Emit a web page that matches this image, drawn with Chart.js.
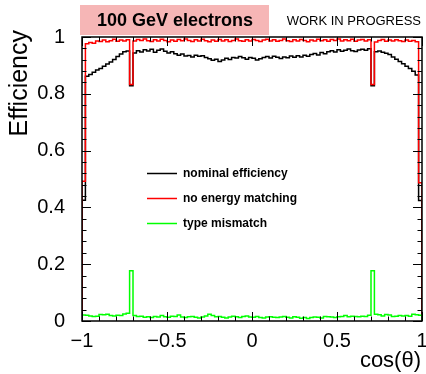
<!DOCTYPE html>
<html>
<head>
<meta charset="utf-8">
<script src="https://cdn.jsdelivr.net/npm/chart.js@4.4.1/dist/chart.umd.min.js"></script>
<style>
  html, body { margin: 0; padding: 0; background: #fff; }
  #wrap { width: 426px; height: 374px; }
</style>
</head>
<body>
<div id="wrap"><canvas id="effChart" width="426" height="374"></canvas></div>
<script>
// cos(theta) binning: 100 bins between -1 and 1
const binLow = -1;
const binWidth = 0.02;

const nominalEff = [
  0.425, 0.862, 0.868, 0.876, 0.884, 0.889, 0.897, 0.905, 0.912, 0.921,
  0.931, 0.940, 0.948, 0.951, 0.828, 0.944, 0.952, 0.947, 0.955, 0.951,
  0.957, 0.946, 0.953, 0.958, 0.950, 0.944, 0.948, 0.941, 0.936, 0.940,
  0.933, 0.935, 0.930, 0.936, 0.932, 0.934, 0.928, 0.923, 0.918, 0.922,
  0.914, 0.919, 0.925, 0.921, 0.928, 0.926, 0.931, 0.927, 0.922, 0.928,
  0.925, 0.919, 0.923, 0.928, 0.931, 0.926, 0.932, 0.929, 0.924, 0.930,
  0.927, 0.933, 0.929, 0.934, 0.930, 0.936, 0.932, 0.938, 0.942, 0.937,
  0.945, 0.941, 0.948, 0.952, 0.947, 0.955, 0.950, 0.953, 0.958, 0.952,
  0.949, 0.954, 0.957, 0.953, 0.959, 0.828, 0.948, 0.951, 0.946, 0.943,
  0.938, 0.930, 0.922, 0.914, 0.906, 0.897, 0.889, 0.879, 0.866, 0.424
];

const noEnergyMatch = [
  0.492, 0.976, 0.981, 0.978, 0.986, 0.984, 0.989, 0.983, 0.987, 0.992,
  0.985, 0.989, 0.986, 0.990, 0.833, 0.986, 0.991, 0.988, 0.993, 0.987,
  0.984, 0.990, 0.986, 0.992, 0.988, 0.983, 0.989, 0.985, 0.991, 0.987,
  0.993, 0.988, 0.984, 0.990, 0.986, 0.992, 0.987, 0.983, 0.989, 0.985,
  0.991, 0.986, 0.990, 0.984, 0.988, 0.993, 0.987, 0.985, 0.990, 0.986,
  0.991, 0.988, 0.984, 0.989, 0.992, 0.986, 0.990, 0.985, 0.988, 0.993,
  0.987, 0.984, 0.990, 0.986, 0.991, 0.988, 0.983, 0.989, 0.986, 0.992,
  0.987, 0.990, 0.985, 0.991, 0.988, 0.993, 0.986, 0.990, 0.987, 0.992,
  0.985, 0.989, 0.991, 0.986, 0.990, 0.833, 0.982, 0.988, 0.991, 0.985,
  0.989, 0.986, 0.990, 0.987, 0.984, 0.989, 0.985, 0.988, 0.983, 0.487
];

const typeMismatch = [
  0.021, 0.020, 0.018, 0.016, 0.017, 0.023, 0.022, 0.024, 0.019, 0.018,
  0.020, 0.019, 0.025, 0.027, 0.177, 0.019, 0.016, 0.017, 0.013, 0.015,
  0.012, 0.016, 0.014, 0.019, 0.015, 0.013, 0.017, 0.016, 0.021, 0.014,
  0.012, 0.015, 0.016, 0.013, 0.011, 0.014, 0.018, 0.024, 0.019, 0.015,
  0.016, 0.013, 0.011, 0.014, 0.017, 0.015, 0.012, 0.016, 0.018, 0.014,
  0.013, 0.016, 0.012, 0.011, 0.014, 0.015, 0.013, 0.012, 0.014, 0.016,
  0.013, 0.011, 0.015, 0.013, 0.010, 0.012, 0.009, 0.012, 0.014, 0.013,
  0.011, 0.016, 0.015, 0.014, 0.012, 0.015, 0.016, 0.019, 0.015, 0.017,
  0.016, 0.015, 0.017, 0.016, 0.020, 0.177, 0.024, 0.022, 0.018, 0.023,
  0.021, 0.016, 0.017, 0.019, 0.018, 0.019, 0.017, 0.024, 0.022, 0.020
];

const seriesNames = ['nominal efficiency', 'no energy matching', 'type mismatch'];
const seriesColors = ['#000000', '#ff0000', '#00ff00'];

const xTicks = [-1, -0.5, 0, 0.5, 1];
const yTicks = [0, 0.2, 0.4, 0.6, 0.8, 1];

const FONT = "'Liberation Sans', Arial, Helvetica, sans-serif";

// histogram outline: start and end on zero, one point per bin low edge
function histPoints(vals) {
  const hi = binLow + vals.length * binWidth;
  const pts = [{x: binLow, y: 0}];
  vals.forEach((v, i) => pts.push({x: binLow + i * binWidth, y: v}));
  pts.push({x: hi, y: vals[vals.length - 1]});
  pts.push({x: hi, y: 0});
  return pts;
}

function fmtTick(v) {
  return v < 0 ? '\u2212' + String(-v) : String(v);
}

// frame with inward ticks on all four sides
const rootFrame = {
  id: 'rootFrame',
  afterDatasetsDraw(chart) {
    const {ctx, chartArea: a, scales: {x, y}} = chart;
    ctx.save();
    ctx.strokeStyle = '#000';
    ctx.lineWidth = 1;
    ctx.beginPath();
    for (let k = 0; k <= 20; k++) {
      const px = Math.round(x.getPixelForValue(-1 + k * 0.1)) + 0.5;
      const len = k % 5 === 0 ? 9 : 4.5;
      ctx.moveTo(px, a.bottom); ctx.lineTo(px, a.bottom - len);
      ctx.moveTo(px, a.top); ctx.lineTo(px, a.top + len);
    }
    for (let k = 0; k <= 25; k++) {
      const py = Math.round(y.getPixelForValue(k * 0.04)) + 0.5;
      const len = k % 5 === 0 ? 9 : 4.5;
      ctx.moveTo(a.left, py); ctx.lineTo(a.left + len, py);
      ctx.moveTo(a.right, py); ctx.lineTo(a.right - len, py);
    }
    ctx.stroke();
    ctx.lineWidth = 1.5;
    ctx.strokeRect(a.left, a.top, a.right - a.left, a.bottom - a.top);
    ctx.restore();
  }
};

// title box, axis titles and in-frame legend
const decorations = {
  id: 'decorations',
  afterDraw(chart) {
    const {ctx} = chart;
    ctx.save();

    ctx.fillStyle = '#f6b6b6';
    ctx.fillRect(80, 5, 189, 30);
    ctx.fillStyle = '#000';
    ctx.textBaseline = 'middle';
    ctx.textAlign = 'center';
    ctx.font = 'bold 18px ' + FONT;
    ctx.fillText('100 GeV electrons', 175, 21);
    ctx.font = '13px ' + FONT;
    ctx.textAlign = 'right';
    ctx.fillText('WORK IN PROGRESS', 421, 21);

    ctx.font = '22px ' + FONT;
    ctx.textAlign = 'right';
    ctx.textBaseline = 'alphabetic';
    ctx.fillText('cos(\u03b8)', 421, 367);

    ctx.save();
    ctx.font = '25px ' + FONT;
    ctx.translate(27, 30);
    ctx.rotate(-Math.PI / 2);
    ctx.textAlign = 'right';
    ctx.fillText('Efficiency', 0, 0);
    ctx.restore();

    ctx.font = 'bold 12px ' + FONT;
    ctx.textAlign = 'left';
    ctx.textBaseline = 'middle';
    const rows = [173, 198, 223];
    chart.data.datasets.forEach((ds, i) => {
      const yy = rows[i] + 0.5;
      ctx.strokeStyle = ds.borderColor;
      ctx.lineWidth = 1.5;
      ctx.beginPath();
      ctx.moveTo(147, yy);
      ctx.lineTo(177, yy);
      ctx.stroke();
      ctx.fillStyle = '#000';
      ctx.fillText(ds.label, 183, yy);
    });
    ctx.restore();
  }
};

const datasets = [nominalEff, noEnergyMatch, typeMismatch].map((vals, i) => ({
  label: seriesNames[i],
  data: histPoints(vals),
  borderColor: seriesColors[i],
  borderWidth: 1.5,
  pointRadius: 0,
  fill: false,
  stepped: 'before',
  order: 2 - i
}));

new Chart(document.getElementById('effChart').getContext('2d'), {
  type: 'line',
  data: {datasets: datasets},
  options: {
    responsive: false,
    animation: false,
    layout: {padding: {top: 37, right: 4, left: 0, bottom: 0}},
    plugins: {legend: {display: false}, tooltip: {enabled: false}},
    scales: {
      x: {
        type: 'linear',
        min: -1,
        max: 1,
        grid: {display: false},
        border: {display: false},
        afterBuildTicks: s => { s.ticks = xTicks.map(v => ({value: v})); },
        afterFit: s => { s.height = 53; s.paddingLeft = 0; s.paddingRight = 0; },
        ticks: {
          autoSkip: false,
          maxRotation: 0,
          padding: 0,
          color: '#000',
          font: {family: FONT, size: 20},
          callback: v => fmtTick(v)
        }
      },
      y: {
        type: 'linear',
        min: 0,
        max: 1,
        grid: {display: false},
        border: {display: false},
        afterBuildTicks: s => { s.ticks = yTicks.map(v => ({value: v})); },
        afterFit: s => { s.width = 82; s.paddingTop = 0; s.paddingBottom = 0; },
        ticks: {
          padding: 9,
          color: '#000',
          font: {family: FONT, size: 20},
          callback: v => fmtTick(v)
        }
      }
    }
  },
  plugins: [rootFrame, decorations]
});
</script>
</body>
</html>
